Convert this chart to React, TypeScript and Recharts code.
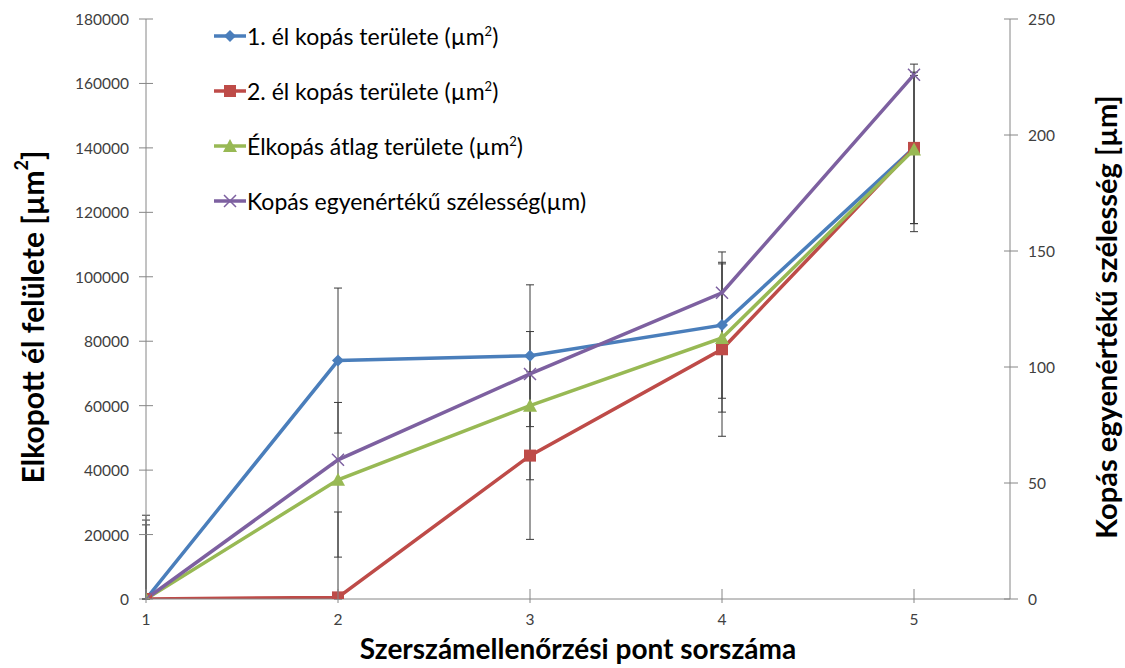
import React from 'react';
import {
  LineChart,
  Line,
  XAxis,
  YAxis,
  ErrorBar,
  Legend,
} from 'recharts';

// measuring points along the x axis
const checkPoints = [1, 2, 3, 4, 5];

// wear area of edge 1 / edge 2 / average (µm²), left axis
const edge1Area = [0, 74000, 75500, 85000, 140000];
const edge1Err = [23000, 22500, 22000, 22700, 26000];
const edge2Area = [0, 500, 44500, 77500, 140000];
const edge2Err = [26000, 26500, 26000, 27000, 23500];
const avgArea = [0, 37000, 60000, 81000, 139500];
const avgErr = [24500, 24000, 23000, 23000, 23000];

// equivalent wear width (µm), right axis
const wearWidth = [0, 60, 97, 132, 226];

const leftTicks = [0, 20000, 40000, 60000, 80000, 100000, 120000, 140000, 160000, 180000];
const rightTicks = [0, 50, 100, 150, 200, 250];

const FONT = 'Lato, "Open Sans", sans-serif';
const AXIS = '#868686';
const TICK_SIZE = 7;
const TICK_MARGIN = 10;

// excel cuts the lower whisker at the axis minimum
const whisker = (v: number, e: number) => [Math.min(e, v), e];

const data = checkPoints.map((p, i) => ({
  p,
  e1: edge1Area[i],
  e1err: whisker(edge1Area[i], edge1Err[i]),
  e2: edge2Area[i],
  e2err: whisker(edge2Area[i], edge2Err[i]),
  avg: avgArea[i],
  avgerr: whisker(avgArea[i], avgErr[i]),
  w: wearWidth[i],
}));

const SERIES = [
  { key: 'e1', color: '#4A7EBB', marker: 'diamond', name: '1. él kopás területe (µm', sup: '2', end: ')' },
  { key: 'e2', color: '#BE4B48', marker: 'square', name: '2. él kopás területe (µm', sup: '2', end: ')' },
  { key: 'avg', color: '#98B954', marker: 'triangle', name: 'Élkopás átlag területe (µm', sup: '2', end: ')' },
  { key: 'w', color: '#7D60A0', marker: 'cross', name: 'Kopás egyenértékű szélesség(µm)', sup: '', end: '' },
];

function Marker({ cx, cy, kind, color }: any) {
  if (cx == null || cy == null) return null;
  if (kind === 'diamond') {
    return <path d={`M${cx},${cy - 6}L${cx + 6},${cy}L${cx},${cy + 6}L${cx - 6},${cy}Z`} fill={color} />;
  }
  if (kind === 'square') {
    return <rect x={cx - 6} y={cy - 6} width={12} height={12} fill={color} />;
  }
  if (kind === 'triangle') {
    return <path d={`M${cx},${cy - 7}L${cx + 7},${cy + 6}L${cx - 7},${cy + 6}Z`} fill={color} />;
  }
  return (
    <path
      d={`M${cx - 6},${cy - 6}L${cx + 6},${cy + 6}M${cx - 6},${cy + 6}L${cx + 6},${cy - 6}`}
      stroke={color}
      strokeWidth={1.5}
      fill="none"
    />
  );
}

const dotFor = (kind: string, color: string) => (props: any) =>
  <Marker key={`${kind}-${props.index}`} cx={props.cx} cy={props.cy} kind={kind} color={color} />;

// tick label plus a tick mark that crosses the axis line, like excel's "cross" ticks
function CrossTick({ x, y, payload, side }: any) {
  const reach = TICK_SIZE + TICK_MARGIN;
  let mark;
  let label;
  const style = { fill: '#404040', fontSize: 15.5, fontFamily: FONT };
  if (side === 'left') {
    const ax = x + reach;
    mark = <line x1={ax - TICK_SIZE} x2={ax + TICK_SIZE} y1={y} y2={y} stroke={AXIS} />;
    label = <text x={x} y={y} textAnchor="end" dominantBaseline="central" {...style}>{payload.value}</text>;
  } else if (side === 'right') {
    const ax = x - reach;
    mark = <line x1={ax - TICK_SIZE} x2={ax + TICK_SIZE} y1={y} y2={y} stroke={AXIS} />;
    label = <text x={x} y={y} textAnchor="start" dominantBaseline="central" {...style}>{payload.value}</text>;
  } else {
    const ay = y - reach;
    mark = <line x1={x} x2={x} y1={ay - TICK_SIZE} y2={ay + TICK_SIZE} stroke={AXIS} />;
    label = <text x={x} y={y} textAnchor="middle" dy="0.75em" {...style}>{payload.value}</text>;
  }
  return (
    <g>
      {mark}
      {label}
    </g>
  );
}

function LegendBox() {
  return (
    <div style={{ fontFamily: FONT, fontSize: 23, color: '#000' }}>
      {SERIES.map((s) => (
        <div key={s.key} style={{ display: 'flex', alignItems: 'center', height: 55 }}>
          <svg width={34} height={20}>
            <line x1={1} y1={10} x2={33} y2={10} stroke={s.color} strokeWidth={3.5} />
            <Marker cx={17} cy={10} kind={s.marker} color={s.color} />
          </svg>
          <span style={{ marginLeft: 0, whiteSpace: 'nowrap' }}>
            {s.name}
            {s.sup && <sup style={{ fontSize: 13 }}>{s.sup}</sup>}
            {s.end}
          </span>
        </div>
      ))}
    </div>
  );
}

function SideTitle({ viewBox, text, sup, end, dx, size }: any) {
  const cx = viewBox.x + dx;
  const cy = viewBox.y + viewBox.height / 2 + 8;
  return (
    <text
      x={cx}
      y={cy}
      transform={`rotate(-90, ${cx}, ${cy})`}
      textAnchor="middle"
      dominantBaseline="central"
      fontFamily={FONT}
      fontWeight="bold"
      fontSize={size}
      fill="#000"
    >
      {text}
      {sup && (
        <tspan baselineShift="super" fontSize={18}>
          {sup}
        </tspan>
      )}
      {end}
    </text>
  );
}

export default function App() {
  return (
    <div style={{ position: 'absolute', left: 0, top: 0, width: 1125, height: 668, background: '#fff' }}>
      <LineChart
        width={1125}
        height={668}
        data={data}
        margin={{ top: 19, right: 45, bottom: 39, left: 76 }}
      >
        <XAxis
          dataKey="p"
          type="number"
          domain={[1, 5.5]}
          ticks={checkPoints}
          allowDataOverflow
          height={30}
          stroke={AXIS}
          tickLine={false}
          tickSize={TICK_SIZE}
          tickMargin={TICK_MARGIN - 3}
          tick={<CrossTick side="bottom" />}
          label={{
            value: 'Szerszámellenőrzési pont sorszáma',
            position: 'bottom',
            offset: 10,
            style: { fontFamily: FONT, fontWeight: 'bold', fontSize: 28, fill: '#000' },
          }}
        />
        <YAxis
          yAxisId="left"
          width={70}
          domain={[0, 180000]}
          ticks={leftTicks}
          allowDataOverflow
          stroke={AXIS}
          tickLine={false}
          tickSize={TICK_SIZE}
          tickMargin={TICK_MARGIN}
          tick={<CrossTick side="left" />}
          label={<SideTitle text="Elkopott él felülete [µm" sup="2" end="]" dx={-44} size={30} />}
        />
        <YAxis
          yAxisId="right"
          orientation="right"
          width={70}
          domain={[0, 250]}
          ticks={rightTicks}
          allowDataOverflow
          stroke={AXIS}
          tickLine={false}
          tickSize={TICK_SIZE}
          tickMargin={TICK_MARGIN + 1}
          tick={<CrossTick side="right" />}
          label={<SideTitle text="Kopás egyenértékű szélesség [µm]" dx={95} size={29} />}
        />
        <Legend
          layout="vertical"
          align="center"
          verticalAlign="middle"
          wrapperStyle={{ position: 'absolute', left: 213, top: 8, width: 460 }}
          content={() => <LegendBox />}
        />
        <Line
          yAxisId="left"
          dataKey="e1"
          stroke={SERIES[0].color}
          strokeWidth={3.5}
          dot={dotFor('diamond', SERIES[0].color)}
          isAnimationActive={false}
        >
          <ErrorBar dataKey="e1err" direction="y" width={4} stroke="#3a3a3a" strokeWidth={1} />
        </Line>
        <Line
          yAxisId="left"
          dataKey="e2"
          stroke={SERIES[1].color}
          strokeWidth={3.5}
          dot={dotFor('square', SERIES[1].color)}
          isAnimationActive={false}
        >
          <ErrorBar dataKey="e2err" direction="y" width={4} stroke="#3a3a3a" strokeWidth={1} />
        </Line>
        <Line
          yAxisId="left"
          dataKey="avg"
          stroke={SERIES[2].color}
          strokeWidth={3.5}
          dot={dotFor('triangle', SERIES[2].color)}
          isAnimationActive={false}
        >
          <ErrorBar dataKey="avgerr" direction="y" width={4} stroke="#3a3a3a" strokeWidth={1} />
        </Line>
        <Line
          yAxisId="right"
          dataKey="w"
          stroke={SERIES[3].color}
          strokeWidth={3.5}
          dot={dotFor('cross', SERIES[3].color)}
          isAnimationActive={false}
        />
      </LineChart>
    </div>
  );
}
